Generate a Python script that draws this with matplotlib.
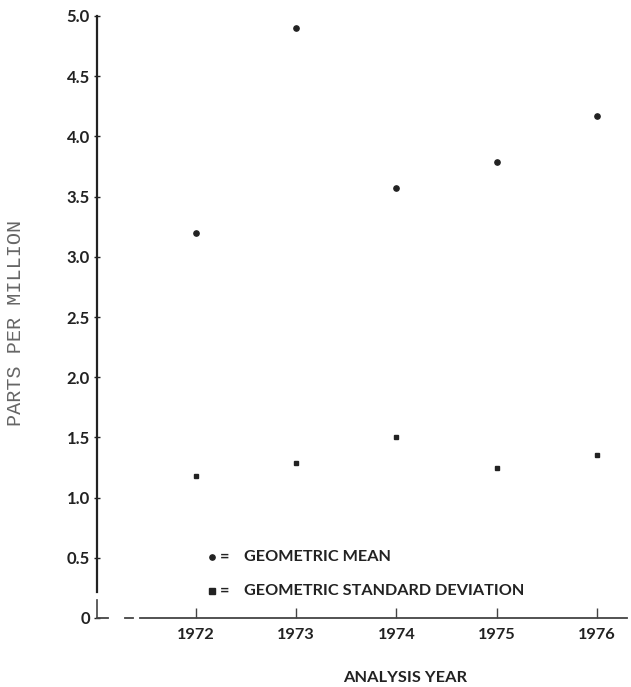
import matplotlib
matplotlib.use("Agg")
import matplotlib.pyplot as plt

years = [1972, 1973, 1974, 1975, 1976]
geo_mean = [3.20, 4.90, 3.57, 3.79, 4.17]
geo_sd = [1.18, 1.29, 1.50, 1.25, 1.35]
y_ticks = [0, 0.5, 1.0, 1.5, 2.0, 2.5, 3.0, 3.5, 4.0, 4.5, 5.0]
y_ticklabels = ["0", "0.5", "1.0", "1.5", "2.0", "2.5", "3.0", "3.5", "4.0", "4.5", "5.0"]
legend_labels = ["GEOMETRIC MEAN", "GEOMETRIC STANDARD DEVIATION"]

W, H = 631, 687
fig = plt.figure(figsize=(W / 100, H / 100), dpi=100)
left, right, bottom, top = 97, 627, 618, 16
ax = fig.add_axes([left / W, 1 - bottom / H, (right - left) / W, (bottom - top) / H])

ax.set_xlim(1971.012, 1976.30)
ax.set_ylim(0, 5.0)

ink = "#222222"
ax.plot(years, geo_mean, "o", color=ink, markersize=3.8, linestyle="none", clip_on=False)
ax.plot(years, geo_sd, "s", color=ink, markersize=3.5, linestyle="none", clip_on=False)

for s in ["top", "right", "bottom"]:
    ax.spines[s].set_visible(False)
ax.spines["left"].set_linewidth(1.6)
ax.spines["left"].set_color(ink)
ax.spines["left"].set_bounds(0.216, 5.0)
ax.plot([0, 0], [0, 0.03], transform=ax.transAxes, color="#444444", lw=1.2, clip_on=False)

# broken x axis line
for a, b in [(0.0, 0.021), (0.053, 0.068), (0.081, 1.0)]:
    ax.plot([a, b], [0, 0], transform=ax.transAxes, color="#444444", lw=1.3, clip_on=False)

tickfont = dict(family="Lato", weight="bold", size=12)
ax.set_yticks(y_ticks)
ax.set_yticklabels(y_ticklabels, fontdict=tickfont, color=ink)
ax.set_xticks(years)
ax.set_xticklabels([str(y) for y in years], fontdict=dict(family="Lato", weight="bold", size=11.8), color=ink)
ax.tick_params(axis="y", direction="inout", length=4, width=1, color=ink, pad=3)
ax.tick_params(axis="x", direction="in", length=7, width=1, color="#444444", pad=7)

ax.set_ylabel("PARTS PER MILLION", family="Liberation Mono", fontsize=14.5, color="#666666")
ax.yaxis.set_label_coords(-0.136, 0.49)
ax.set_xlabel("ANALYSIS YEAR", family="Lato", weight="bold", fontsize=11.8, color=ink, va="center")
ax.xaxis.set_label_coords(0.581, -0.10)

# legend drawn manually
legend_y = [(618 - 557) / 602, (618 - 591) / 602]
ax.plot([0.217], [legend_y[0]], "o", color=ink, markersize=3.8, transform=ax.transAxes, clip_on=False)
ax.plot([0.217], [legend_y[1]], "s", color=ink, markersize=3.8, transform=ax.transAxes, clip_on=False)
for yy, lab in zip(legend_y, legend_labels):
    ax.text(0.232, yy, "=", transform=ax.transAxes, va="center", ha="left", fontsize=11.7, family="Lato", weight="bold", color=ink)
    ax.text(0.277, yy, lab, transform=ax.transAxes, va="center", ha="left", fontsize=11.7, family="Lato", weight="bold", color=ink)

fig.savefig("out.png", dpi=100, facecolor="white")
